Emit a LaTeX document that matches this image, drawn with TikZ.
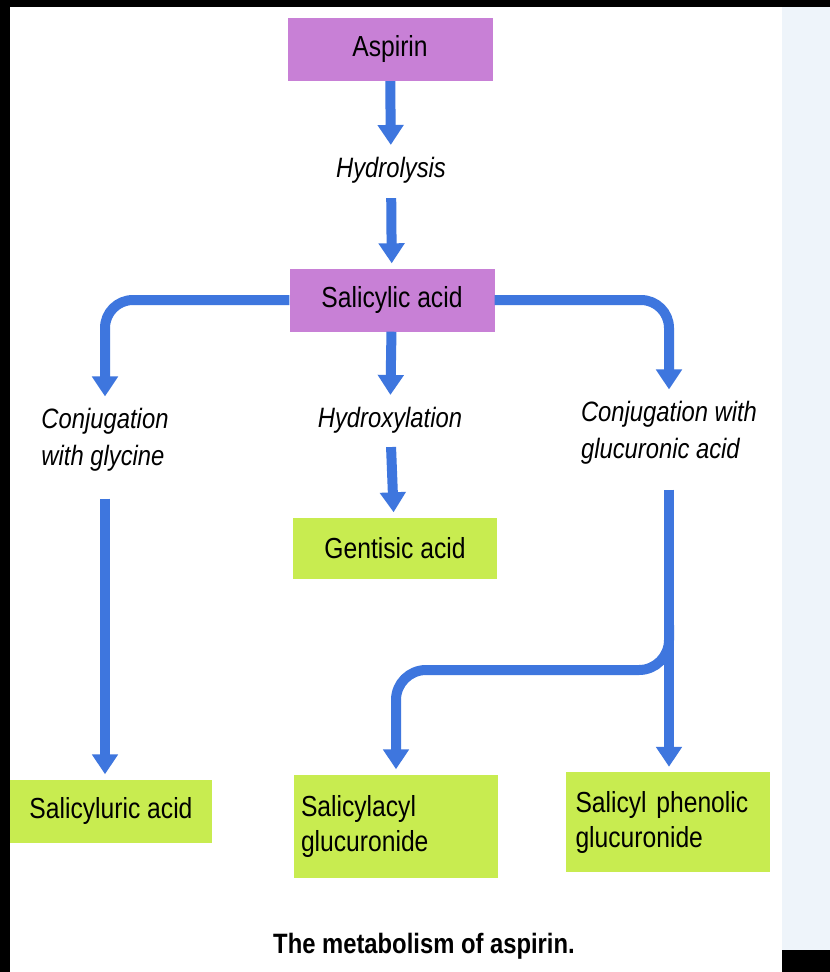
\documentclass[tikz,border=0pt]{standalone}
\usepackage{fontspec}
\setmainfont{Liberation Sans}[FakeStretch=0.85]
\usetikzlibrary{arrows.meta,positioning}
\definecolor{aspurple}{RGB}{200,128,214}
\definecolor{asgreen}{RGB}{200,236,80}
\definecolor{asblue}{RGB}{62,118,222}
\definecolor{asstrip}{RGB}{238,244,250}
\tikzset{
    drugbox/.style={
        fill=aspurple,
        inner sep=6pt,
        minimum width=205pt,
        minimum height=63pt,
        font=\fontsize{29}{35}\selectfont
    },
    productbox/.style={
        fill=asgreen,
        inner sep=7pt,
        minimum width=204pt,
        minimum height=62pt,
        font=\fontsize{29}{35}\selectfont
    },
    steplabel/.style={
        align=left,
        inner sep=4pt,
        outer sep=3pt,
        font=\fontsize{28}{37}\selectfont\itshape
    },
    flow/.style={
        -{Triangle[length=20pt,width=25pt]},
        line width=10pt,
        draw=asblue,
        shorten >=5pt
    }
}
\begin{document}
\begin{tikzpicture}[x=1pt,y=-1pt]
        % frame of the scanned page
        \fill[black] (0,0) rectangle (830,972);
        \fill[white] (10,7) rectangle (782,972);
        \fill[asstrip] (782,7) rectangle (830,950);
        \useasboundingbox (0,0) rectangle (830,972);

        \node[drugbox] (aspirin) at (390,49.5) {Aspirin};
        \node[steplabel] (hydrolysis) at (391,170) {Hydrolysis};
        \node[drugbox] (salicylic) at (392,300) {Salicylic acid};

        \node[steplabel] (glycine) at (105,440) {Conjugation\\with glycine};
        \node[steplabel] (hydroxylation) at (390,420) {Hydroxylation};
        \node[steplabel] (glucuronic) at (669,433) {Conjugation with\\glucuronic acid};

        \node[productbox, minimum height=61pt] (gentisic) at (395,548) {Gentisic acid};
        \node[productbox, minimum width=202pt, minimum height=63pt] (salicyluric) at (111,811) {Salicyluric acid};
        \node[productbox, text width=190pt, align=left, minimum height=103pt] (salicylacyl) at (396,826) {Salicylacyl\\glucuronide};
        \node[productbox, text width=185pt, align=left, minimum height=100pt] (phenolic) at (668,822) {Salicyl phenolic\\glucuronide};

        \node[font=\fontsize{28}{32}\selectfont\bfseries] (caption) at (424,946) {The metabolism of aspirin.};

        \draw[flow] (aspirin) -- (hydrolysis);
        \draw[flow, shorten <=8pt] (hydrolysis) -- (salicylic);
        \draw[flow, rounded corners=28pt] (salicylic.west) -| (glycine.north);
        \draw[flow] (salicylic) -- (hydroxylation);
        \draw[flow, rounded corners=28pt] (salicylic.east) -| (glucuronic.north);
        \draw[flow, shorten <=7pt] (hydroxylation) -- (gentisic);

        \draw[flow, shorten <=20pt] (glycine.south) -- (glycine.south |- salicyluric.north);
        \draw[flow, shorten <=18pt] (glucuronic.south) -- (glucuronic.south |- phenolic.north);

        % branch to the acyl glucuronide
        \path (glucuronic.south |- 0,625) coordinate (split);
        \path (salicylacyl.north |- 0,670) coordinate (bend);
        \draw[flow, rounded corners=30pt] (split) |- (bend) -- (salicylacyl.north);
\end{tikzpicture}
\end{document}
